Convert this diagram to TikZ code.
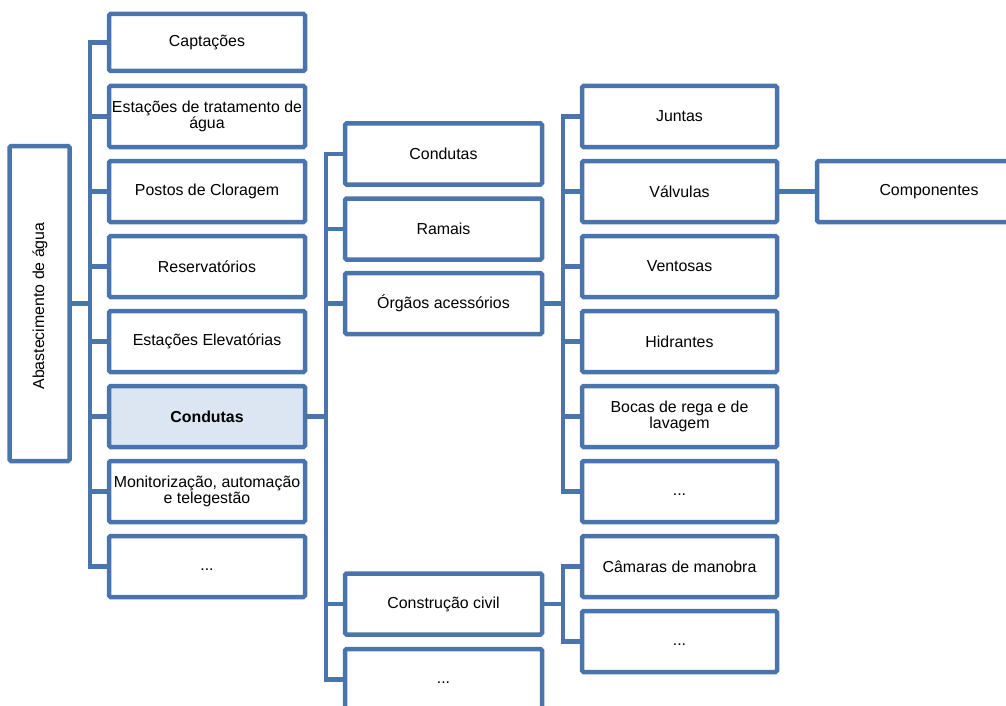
\documentclass[tikz,border=0pt]{standalone}
\usepackage{fontspec}
\setmainfont{Liberation Sans}
\usetikzlibrary{backgrounds}
\definecolor{bl}{RGB}{74,117,172}
\definecolor{hl}{RGB}{220,230,242}
\newcommand{\dotstxt}{\vphantom{Ag}...}
\begin{document}
\begin{tikzpicture}[x=1pt,y=-1pt,
  box/.style={draw=bl, fill=white, line width=4.5pt, rounded corners=1.5pt,
    minimum height=61pt, inner sep=0pt, align=center,
    font=\fontsize{15.9}{15.5}\selectfont},
  boxA/.style={box, minimum width=196pt},
  boxB/.style={box, minimum width=197pt},
  boxC/.style={box, minimum width=195pt},
  conn/.style={draw=bl, line width=4.5pt, line cap=rect}]
\useasboundingbox (0,0) rectangle (1006,706);
\clip (0,0) rectangle (1006,706);
% root
\node[box, minimum width=60pt, minimum height=315pt] (root) at (39.5,303.5) {};
\node[rotate=90, font=\fontsize{15.9}{15.5}\selectfont] (roottxt) at (40,306) {Abastecimento de água};
% column 1
\node[boxA, minimum height=57pt] (a1) at (207,42.5) {Captações};
\node[boxA] (a2) at (207,116.5) {Estações de tratamento de\\água};
\node[boxA] (a3) at (207,191.5) {Postos de Cloragem};
\node[boxA] (a4) at (207,266.5) {Reservatórios};
\node[boxA] (a5) at (207,341.5) {Estações Elevatórias};
\node[boxA, fill=hl, font=\fontsize{15.9}{15.5}\selectfont\bfseries] (a6) at (207,416.5) {Condutas};
\node[boxA] (a7) at (207,491.5) {Monitorização, automação\\e telegestão};
\node[boxA] (a8) at (207,566.5) {\dotstxt};
% column 2
\node[boxB] (b1) at (443.5,154) {Condutas};
\node[boxB] (b2) at (443.5,229) {Ramais};
\node[boxB] (b3) at (443.5,303.5) {Órgãos acessórios};
\node[boxB] (b4) at (443.5,604) {Construção civil};
\node[boxB] (b5) at (443.5,679.5) {\dotstxt};
% column 3
\node[boxC] (c1) at (679.5,116.5) {Juntas};
\node[boxC] (c2) at (679.5,191.5) {Válvulas};
\node[boxC] (c3) at (679.5,266.5) {Ventosas};
\node[boxC] (c4) at (679.5,341.5) {Hidrantes};
\node[boxC] (c5) at (679.5,416.5) {Bocas de rega e de\\lavagem};
\node[boxC] (c6) at (679.5,491.5) {\dotstxt};
\node[boxC] (c7) at (679.5,566.5) {Câmaras de manobra};
\node[boxC] (c8) at (679.5,641.5) {\dotstxt};
% column 4
\node[box, minimum width=224pt] (d1) at (929,191.5) {Componentes};
% spine coordinates
\coordinate (s1) at (90,0);
\coordinate (s2) at (326,0);
\coordinate (s3) at (563,0);
\begin{scope}[on background layer]
  \draw[conn] (root.east) -- (root.east -| s1);
  \draw[conn] (a1.west -| s1) -- (a8.west -| s1);
  \foreach \n in {a1,a2,a3,a4,a5,a6,a7,a8} \draw[conn] (\n.west) -- (\n.west -| s1);
  \draw[conn] (a6.east) -- (a6.east -| s2);
  \draw[conn] (b1.west -| s2) -- (b5.west -| s2);
  \foreach \n in {b1,b2,b3,b4,b5} \draw[conn] (\n.west) -- (\n.west -| s2);
  \draw[conn] (b3.east) -- (b3.east -| s3);
  \draw[conn] (c1.west -| s3) -- (c6.west -| s3);
  \foreach \n in {c1,c2,c3,c4,c5,c6} \draw[conn] (\n.west) -- (\n.west -| s3);
  \draw[conn] (b4.east) -- (b4.east -| s3);
  \draw[conn] (c7.west -| s3) -- (c8.west -| s3);
  \foreach \n in {c7,c8} \draw[conn] (\n.west) -- (\n.west -| s3);
  \draw[conn] (c2.east) -- (d1.west);
\end{scope}
\end{tikzpicture}
\end{document}
